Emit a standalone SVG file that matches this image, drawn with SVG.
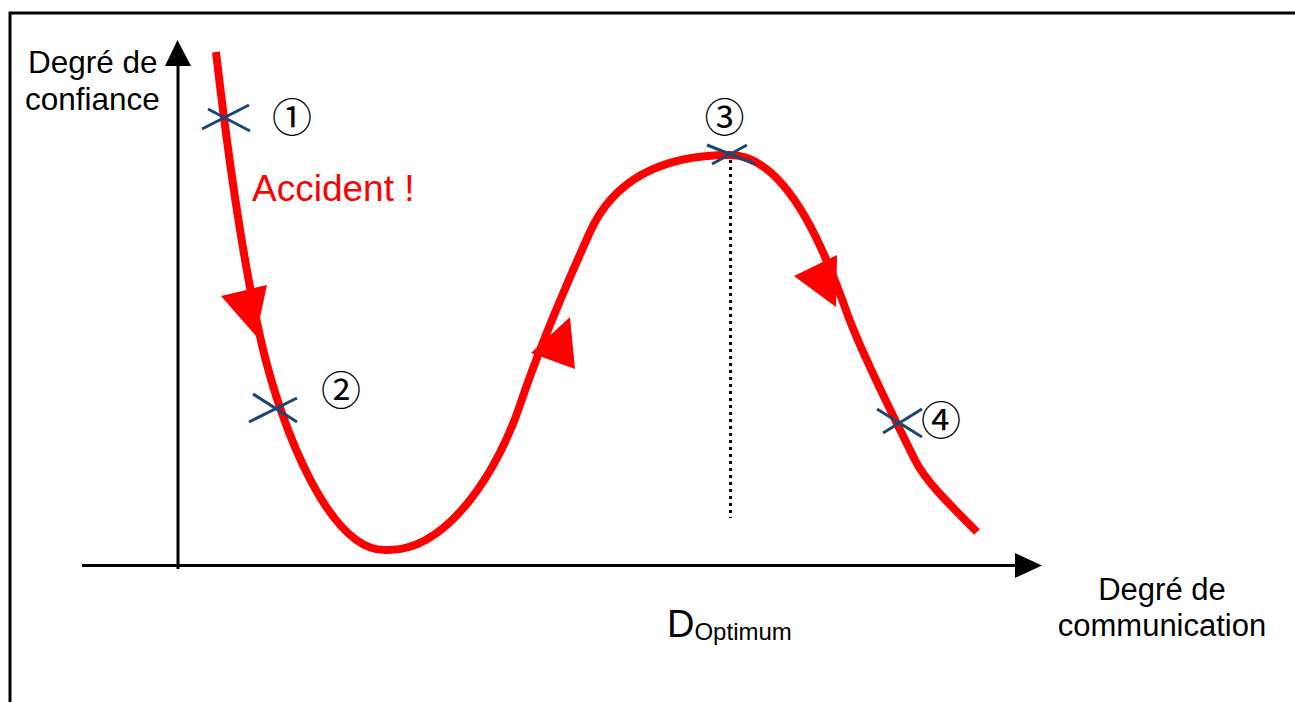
<svg xmlns="http://www.w3.org/2000/svg" width="1295" height="702" viewBox="0 0 1295 702">
<style>
.lbl{font-family:"Liberation Sans",Arial,sans-serif;fill:#000}
.num{font-family:"Noto Sans CJK JP","DejaVu Sans",sans-serif;font-size:40px;fill:#000;text-anchor:middle;dominant-baseline:central}
.cross{stroke:#1B4873;stroke-width:3;fill:none}
.curve{stroke:#FF0000;stroke-width:8;fill:none}
.head{fill:#FF0000}
</style>
<rect width="1295" height="702" fill="#fff"/>
<g id="frame"><path d="M10,702 V13 H1295" fill="none" stroke="#000" stroke-width="3"/></g>
<g id="axes">
<line x1="178" y1="569" x2="178" y2="62" stroke="#000" stroke-width="3"/>
<polygon points="165,66 177.5,40 191,66" fill="#000"/>
<line x1="82" y1="565.5" x2="1018" y2="565.5" stroke="#000" stroke-width="3"/>
<polygon points="1015,553 1042,565.5 1015,578" fill="#000"/>
</g>
<g id="optimum-line"><line x1="730.5" y1="160" x2="730.5" y2="518" stroke="#000" stroke-width="3" stroke-dasharray="3 4"/></g>
<g id="connectors">
<path class="curve" d="M216,52 C225,130 240,250 262,345 C282,430 330,552 386,550 C450,552 500,465 520,405 C540,345 572,272 590,232 C610,188 650,155 730,155 C790,155 830,265 847,313 C860,349 895,420 915,460 C925,480 945,500 977,532"/>
<polygon class="head" points="221,296 267,285 256,336"/>
<polygon class="head" points="531,353 575,369 570,317"/>
<polygon class="head" points="794,276 837,255 836,307"/>
</g>
<g id="point1"><path class="cross" d="M202,129 L249,105 M208,109 L250,131"/><text class="num" x="292" y="115">①</text></g>
<g id="point2"><path class="cross" d="M249,422 L297,398 M253,394 L297,422"/><text class="num" x="341" y="388">②</text></g>
<g id="point3"><path class="cross" d="M707,145 L755,164 M712,164 L747,145"/><text class="num" x="724.5" y="115">③</text></g>
<g id="point4"><path class="cross" d="M877,409 L922,437 M883,433 L922,409"/><text class="num" x="941" y="418">④</text></g>
<g id="y-label"><text class="lbl" font-size="31.5" x="28" y="73">Degré de</text><text class="lbl" font-size="31.5" x="25" y="110">confiance</text></g>
<g id="accident"><text class="lbl" font-size="37" x="252" y="201" style="fill:#FF0000">Accident !</text></g>
<g id="x-label"><text class="lbl" font-size="31" x="1162" y="600" text-anchor="middle">Degré de</text><text class="lbl" font-size="31" x="1162" y="636" text-anchor="middle">communication</text></g>
<g id="d-optimum"><text class="lbl" x="667" y="637" font-size="38">D<tspan font-size="24" dy="3">Optimum</tspan></text></g>
</svg>
